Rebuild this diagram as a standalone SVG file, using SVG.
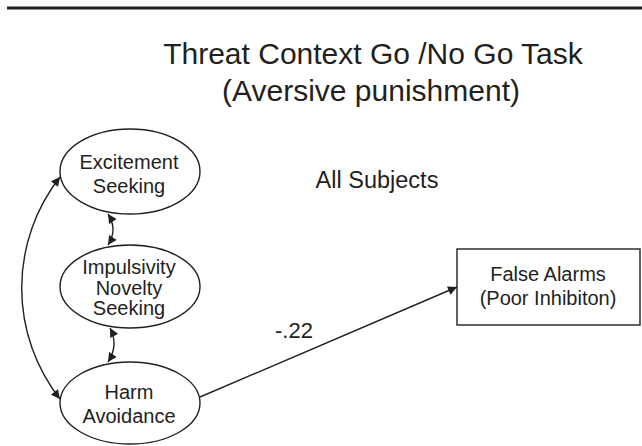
<svg xmlns="http://www.w3.org/2000/svg" width="642" height="446" viewBox="0 0 642 446">
<style>
text{font-family:"Liberation Sans",Arial,sans-serif;fill:#231f20;text-anchor:middle}
.node{fill:#fff;stroke:#231f20;stroke-width:1.4}
.conn{fill:none;stroke:#231f20;stroke-width:1.4}
.t20{font-size:20px}
</style>
<defs>
<marker id="ah" viewBox="0 0 10 10" refX="10" refY="5" markerWidth="12" markerHeight="9" markerUnits="userSpaceOnUse" orient="auto-start-reverse">
<path d="M0,0 L10,5 L0,10 Z" fill="#231f20"/>
</marker>
</defs>
<rect x="7" y="6.5" width="635" height="3" fill="#231f20"/>
<g id="title">
<text x="373" y="64" font-size="30">Threat Context Go /No Go Task</text>
<text x="371" y="101" font-size="30">(Aversive punishment)</text>
</g>
<g id="label-all"><text x="377" y="188" font-size="23.5">All Subjects</text></g>
<g id="connectors">
<path class="conn" d="M60,177 A180,180 0 0,0 60,399" marker-start="url(#ah)" marker-end="url(#ah)"/>
<path class="conn" d="M108,214 Q118,229.5 108,245" marker-start="url(#ah)" marker-end="url(#ah)"/>
<path class="conn" d="M110,328 Q119,345 108,362" marker-start="url(#ah)" marker-end="url(#ah)"/>
<path class="conn" d="M200,397 L457,287" marker-end="url(#ah)"/>
<text x="294" y="338" font-size="22">-.22</text>
</g>
<g id="excitement">
<ellipse class="node" cx="130" cy="171.5" rx="70" ry="42.5"/>
<text class="t20" x="129" y="169">Excitement</text>
<text class="t20" x="129" y="193">Seeking</text>
</g>
<g id="impulsivity">
<ellipse class="node" cx="130" cy="286.5" rx="70" ry="41.5"/>
<text class="t20" x="129" y="274">Impulsivity</text>
<text class="t20" x="129" y="294.5">Novelty</text>
<text class="t20" x="129" y="315">Seeking</text>
</g>
<g id="harm">
<ellipse class="node" cx="130" cy="403" rx="70" ry="41"/>
<text class="t20" x="129" y="399">Harm</text>
<text class="t20" x="129" y="423">Avoidance</text>
</g>
<g id="false-alarms">
<rect class="node" x="457" y="249" width="183" height="76"/>
<text class="t20" x="548" y="281">False Alarms</text>
<text class="t20" x="548" y="305">(Poor Inhibiton)</text>
</g>
</svg>
